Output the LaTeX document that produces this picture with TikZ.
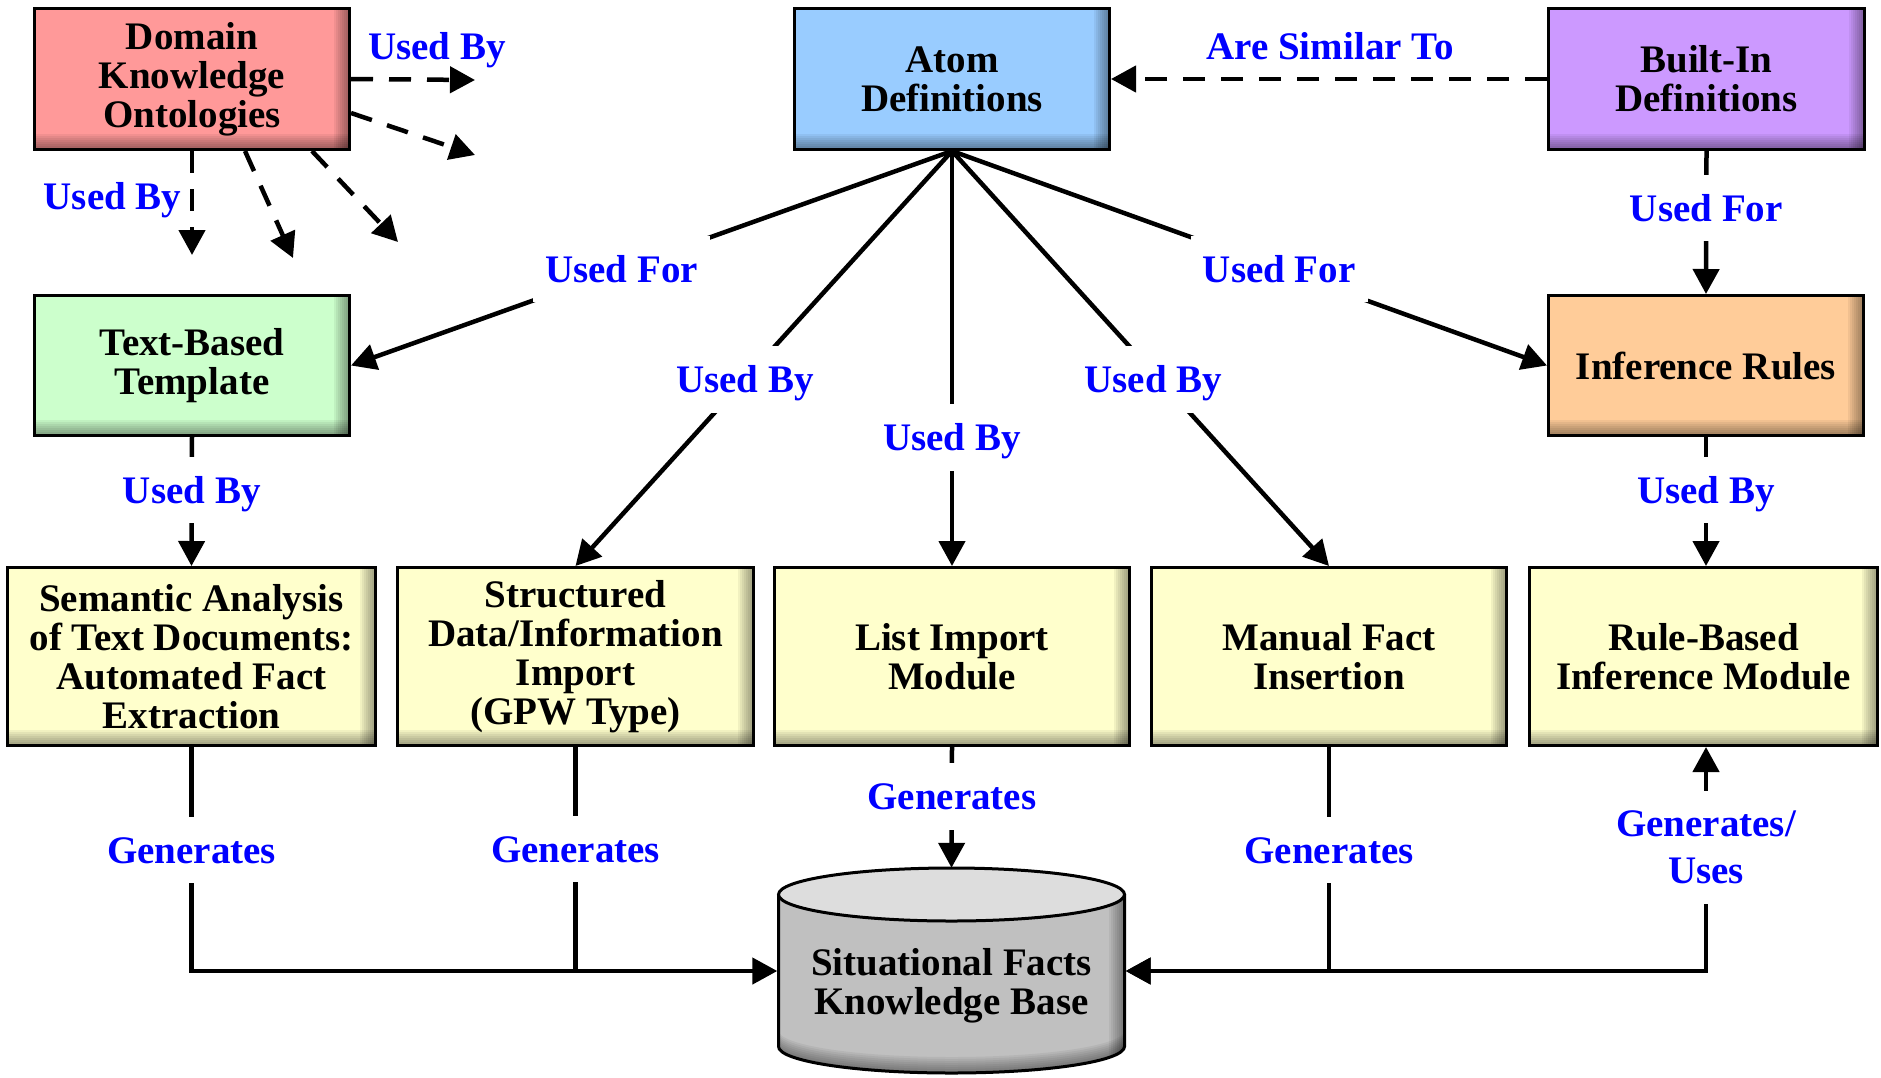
\documentclass[tikz,border=0pt]{standalone}
\usepackage{fontspec}
\setmainfont{Liberation Serif}
\usetikzlibrary{arrows.meta,calc}

\definecolor{pinkfill}{HTML}{FF9999}
\definecolor{bluefill}{HTML}{99CCFF}
\definecolor{violetfill}{HTML}{CC99FF}
\definecolor{greenfill}{HTML}{CCFFCC}
\definecolor{orangefill}{HTML}{FFCC99}
\definecolor{yellowfill}{HTML}{FFFFCC}
\definecolor{dbbody}{HTML}{C0C0C0}
\definecolor{dbtop}{HTML}{DDDDDD}
\definecolor{labelblue}{HTML}{0000FF}

\tikzset{
  boxtext/.style={font=\bfseries\fontsize{39}{39}\selectfont, align=center},
  % inner bevel: stacked translucent strips darken the bottom and right edges
  box/.style={boxtext, draw=black, line width=3pt, fill=#1, inner sep=0pt,
    path picture={
      \foreach \d in {2,4,...,16} {
        \fill[black, opacity=0.055]
          ([yshift=\d pt]path picture bounding box.south west)
          rectangle (path picture bounding box.south east);
        \fill[black, opacity=0.055]
          ([xshift=-\d pt]path picture bounding box.north east)
          rectangle (path picture bounding box.south east);
      }
    }},
  lbl/.style={font=\bfseries\fontsize{39}{39}\selectfont, text=labelblue,
    fill=white, inner xsep=12pt, inner ysep=20pt,
    text height=26.5pt, text depth=0pt},
  lbltwo/.style={font=\bfseries\fontsize{39}{47}\selectfont, text=labelblue,
    fill=white, inner xsep=12pt, inner ysep=20pt, align=center},
  freelbl/.style={font=\bfseries\fontsize{39}{39}\selectfont, text=labelblue,
    inner sep=0pt, text height=26.5pt, text depth=0pt},
  tip/.tip={Triangle[length=25pt, width=26pt]},
  plain/.style={line width=4.5pt},
  link/.style={plain, -tip},
  twolink/.style={plain, tip-tip},
  dashlink/.style={link, dash pattern=on 22pt off 16pt},
}

\begin{document}
\begin{tikzpicture}[x=1pt, y=-1pt]
\useasboundingbox (0,0) rectangle (1881,1077);

% ---- top row ----
\node[box=pinkfill, minimum width=315pt, minimum height=141pt] (dom) at (192,79)
  {Domain\\Knowledge\\Ontologies};
\node[box=bluefill, minimum width=315pt, minimum height=141pt] (atom) at (952,79)
  {Atom\\Definitions};
\node[box=violetfill, minimum width=316pt, minimum height=141pt] (built) at (1706.5,79)
  {Built-In\\Definitions};

% ---- second row ----
\node[box=greenfill, minimum width=315pt, minimum height=140pt] (tbt) at (192,365.5)
  {Text-Based\\Template};
\node[box=orangefill, minimum width=315pt, minimum height=140pt] (inf) at (1706,365.5)
  {Inference Rules};

% ---- module row ----
\node[box=yellowfill, minimum width=368pt, minimum height=178pt] (sem) at (191.5,656.5)
  {Semantic Analysis\\of Text Documents:\\Automated Fact\\Extraction};
\node[box=yellowfill, minimum width=356pt, minimum height=178pt] (sdi) at (575.5,656.5)
  {Structured\\Data/Information\\Import\\(GPW Type)};
\node[box=yellowfill, minimum width=355pt, minimum height=178pt] (lim) at (952,656.5)
  {List Import\\Module};
\node[box=yellowfill, minimum width=355pt, minimum height=178pt] (mfi) at (1329,656.5)
  {Manual Fact\\Insertion};
\node[box=yellowfill, minimum width=348pt, minimum height=178pt] (rbi) at (1703.5,656.5)
  {Rule-Based\\Inference Module};

% ---- knowledge base cylinder ----
\begin{scope}[line width=3pt]
  \fill[dbbody] (778.5,894.5) -- (778.5,1046.5)
    arc[start angle=180, end angle=0, x radius=173, y radius=26.5]
    -- (1124.5,894.5) -- cycle;
  \begin{scope}
    \clip (778.5,894.5) -- (778.5,1046.5)
      arc[start angle=180, end angle=0, x radius=173, y radius=26.5]
      -- (1124.5,894.5) -- cycle;
    \foreach \d in {2,4,...,16} {
      \fill[black, opacity=0.055] (1124.5-\d,880) rectangle (1126,1080);
      \fill[black, opacity=0.055] (778.5,1046.5-\d)
        arc[start angle=180, end angle=0, x radius=173, y radius=26.5]
        -- (1124.5,1080) -- (778.5,1080) -- cycle;
    }
  \end{scope}
  \draw (778.5,894.5) -- (778.5,1046.5)
    arc[start angle=180, end angle=0, x radius=173, y radius=26.5]
    -- (1124.5,894.5);
  \draw[fill=dbtop] (951.5,894.5) ellipse [x radius=173, y radius=26.5];
\end{scope}
\node[minimum width=348pt, minimum height=206pt, inner sep=0pt] (kb) at (951.5,971) {};
\node[boxtext] (kbtext) at (951.5,986) {Situational Facts\\Knowledge Base};

% ---- dashed links from the domain ontologies ----
\coordinate (d1) at (475,80);
\coordinate (d2) at (475,155);
\coordinate (d3) at (192,255);
\coordinate (d4) at (293,258);
\coordinate (d5) at (398,242);
\draw[dashlink] (dom.east) -- (d1);
\draw[dashlink] ([yshift=-34pt]dom.east) -- (d2);
\draw[dashlink] (dom.south) -- (d3);
\draw[dashlink] ([xshift=53pt]dom.south) -- (d4);
\draw[dashlink] ([xshift=120pt]dom.south) -- (d5);
\node[freelbl] (ub1) at (437,46) {Used By};
\node[freelbl] (ub2) at (112.5,196) {Used By};

% ---- built-in definitions ----
\draw[dashlink] (built.west) -- (atom.east);
\node[freelbl] (ast) at (1330,46) {Are Similar To};
\draw[link] (built.south) -- node[lbl, pos=0.40] {Used For} (inf.north);

% ---- atom definitions fan-out ----
\draw[link] (atom.south) -- node[lbl, pos=0.55] {Used For} (tbt.east);
\draw[link] (atom.south) -- node[lbl, pos=0.55] {Used By} (sdi.north);
\draw[link] (atom.south) -- node[lbl, pos=0.69] {Used By} (lim.north);
\draw[link] (atom.south) -- node[lbl, pos=0.55, xshift=-6pt] {Used By} (mfi.north);
\draw[link] (atom.south) -- node[lbl, pos=0.55] {Used For} (inf.west);

% ---- templates and rules to modules ----
\draw[link] (tbt.south) -- node[lbl, pos=0.41] {Used By} (sem.north);
\draw[link] (inf.south) -- node[lbl, pos=0.41] {Used By} (inf.south |- rbi.north);

% ---- modules to knowledge base ----
\draw[link] (sem.south) |- node[lbl, pos=0.23] {Generates} (kb.west);
\draw[plain] (sdi.south) -- node[lbl, pos=0.455] {Generates} (sdi.south |- kb.west);
\draw[link] (lim.south) -- node[lbl, pos=0.41] {Generates} (kb.north);
\draw[link] (mfi.south) |- node[lbl, pos=0.23] {Generates} (kb.east);
\draw[twolink] (kb.east) -| node[lbltwo, pos=0.776] {Generates/\\Uses} (inf.south |- rbi.south);
\end{tikzpicture}
\end{document}
